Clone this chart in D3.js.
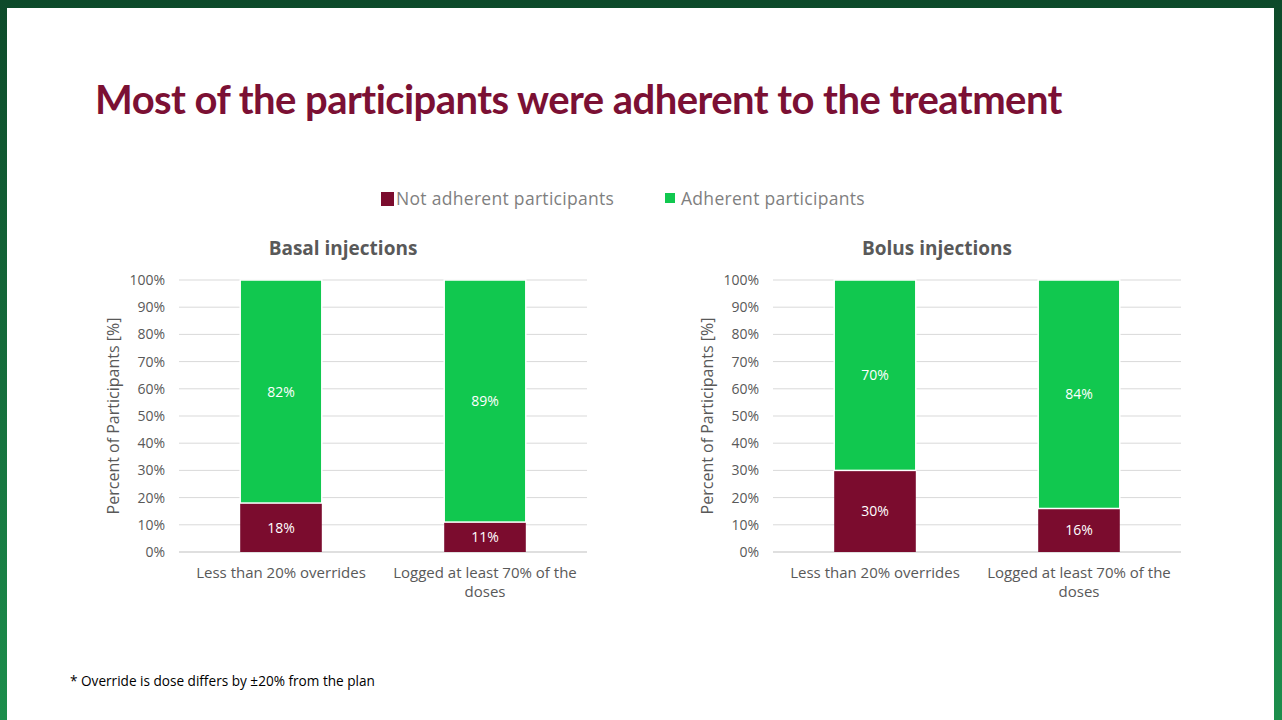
<!DOCTYPE html>
<html><head><meta charset="utf-8">
<script src="https://cdn.jsdelivr.net/npm/d3@7"></script>
<style>body{margin:0;overflow:hidden}</style>
</head><body>
<script>
var categories = ["Less than 20% overrides", "Logged at least 70% of the doses"];
var charts = ["Basal injections", "Bolus injections"];
var notAdherent = [[18, 11], [30, 16]];
var adherent = [[82, 89], [70, 84]];
var yTicks = [0, 10, 20, 30, 40, 50, 60, 70, 80, 90, 100];

var svg = d3.select("body").append("svg").attr("width", 1282).attr("height", 720);
var defs = svg.append("defs");
var grad = defs.append("linearGradient").attr("id", "bg").attr("x1", 0).attr("y1", 0).attr("x2", 0).attr("y2", 1);
grad.append("stop").attr("offset", "0").attr("stop-color", "#0d4a2a");
grad.append("stop").attr("offset", "1").attr("stop-color", "#1c8e4c");
svg.append("rect").attr("width", 1282).attr("height", 720).attr("fill", "url(#bg)");
svg.append("rect").attr("x", 7).attr("y", 8).attr("width", 1267).attr("height", 712).attr("fill", "#fff");

var font = "'Open Sans', sans-serif";
svg.append("text").attr("x", 95).attr("y", 114).attr("font-family", "Lato, sans-serif").attr("font-weight", "bold")
  .attr("font-size", 40).attr("fill", "#7b1034").attr("letter-spacing", -0.55)
  .text("Most of the participants were adherent to the treatment");

// legend
var lg = svg.append("g").attr("font-family", font).attr("font-size", 17.5).attr("fill", "#7f7f7f").attr("letter-spacing", 0.3);
lg.append("rect").attr("x", 381).attr("y", 192).attr("width", 13).attr("height", 14).attr("fill", "#7b0c2e");
lg.append("text").attr("x", 396).attr("y", 205).text("Not adherent participants");
lg.append("rect").attr("x", 665).attr("y", 193).attr("width", 10).attr("height", 10).attr("fill", "#11c84f");
lg.append("text").attr("x", 681).attr("y", 205).text("Adherent participants");

var offsets = [179, 773];
var pw = 408, plotTop = 280, plotBottom = 552;

charts.forEach(function(title, ci) {
  var g = svg.append("g").attr("transform", "translate(" + offsets[ci] + ",0)");
  var x = d3.scaleBand().domain(categories).range([0, pw]).paddingInner(0.6).paddingOuter(0.3);
  var y = d3.scaleLinear().domain([0, 100]).range([plotBottom, plotTop]);

  g.selectAll(".grid").data(yTicks).enter().append("line")
    .attr("x1", 0).attr("x2", pw).attr("y1", d => y(d)).attr("y2", d => y(d))
    .attr("stroke", d => d === 0 ? "#bfbfbf" : "#d9d9d9").attr("stroke-width", 1);

  var yAxis = g.append("g").call(d3.axisLeft(y).tickValues(yTicks).tickFormat(d => d + "%").tickSize(0).tickPadding(14));
  yAxis.select(".domain").remove();
  yAxis.selectAll("text").attr("font-family", font).attr("font-size", 14).attr("fill", "#595959");

  g.append("text").attr("transform", "translate(-60," + ((plotTop + plotBottom) / 2) + ") rotate(-90)")
    .attr("text-anchor", "middle").attr("font-family", font).attr("font-size", 16).attr("fill", "#595959")
    .text("Percent of Participants [%]");

  g.append("text").attr("x", 164).attr("y", 255).attr("text-anchor", "middle").attr("font-family", font)
    .attr("font-weight", "bold").attr("font-size", 19).attr("fill", "#595959").text(title);

  categories.forEach(function(c, i) {
    var n = notAdherent[ci][i], a = adherent[ci][i];
    g.append("rect").attr("x", x(c)).attr("width", x.bandwidth()).attr("y", y(n)).attr("height", y(0) - y(n))
      .attr("fill", "#7b0c2e");
    g.append("rect").attr("x", x(c)).attr("width", x.bandwidth()).attr("y", y(n + a)).attr("height", y(n) - y(n + a))
      .attr("fill", "#11c84f").attr("stroke", "#fff").attr("stroke-width", 1.5);
    g.append("text").attr("x", x(c) + x.bandwidth() / 2).attr("y", y(n / 2) + 5).attr("text-anchor", "middle")
      .attr("font-family", font).attr("font-size", 14).attr("fill", "#fff").text(n + "%");
    g.append("text").attr("x", x(c) + x.bandwidth() / 2).attr("y", y(n + a / 2) + 5).attr("text-anchor", "middle")
      .attr("font-family", font).attr("font-size", 14).attr("fill", "#fff").text(a + "%");
  });

  // category labels
  var cx = d3.scaleBand().domain(categories).range([0, pw]);
  var labels = [["Less than 20% overrides"], ["Logged at least 70% of the", "doses"]];
  categories.forEach(function(c, i) {
    labels[i].forEach(function(line, li) {
      g.append("text").attr("x", cx(c) + cx.bandwidth() / 2).attr("y", 578 + li * 19).attr("text-anchor", "middle")
        .attr("font-family", font).attr("font-size", 15).attr("fill", "#595959").text(line);
    });
  });
});

svg.append("text").attr("x", 70).attr("y", 686).attr("font-family", "'Open Sans', sans-serif").attr("font-size", 13.6)
  .attr("fill", "#000").text("* Override is dose differs by \u00b120% from the plan");
</script>
</body></html>
